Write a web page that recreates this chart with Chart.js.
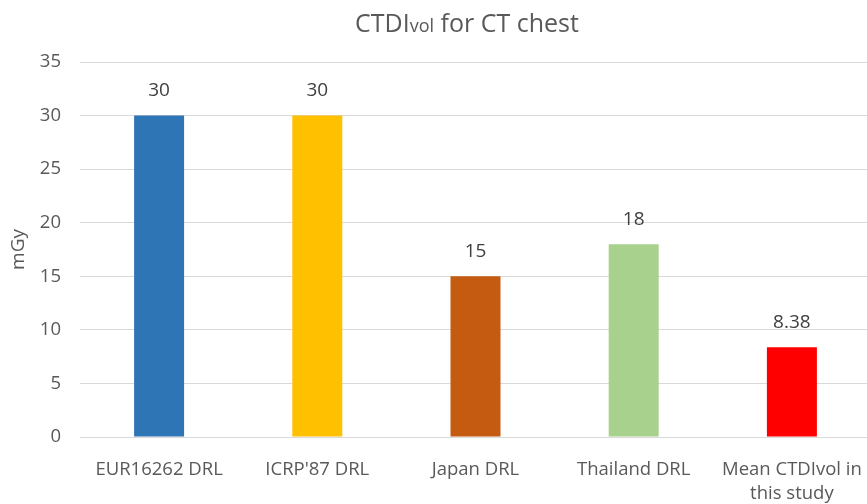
<!DOCTYPE html>
<html>
<head>
<meta charset="utf-8">
<script src="https://cdn.jsdelivr.net/npm/chart.js@4"></script>
<style>
  html, body { margin: 0; padding: 0; background: #fff; overflow: hidden; }
  /* the plot area runs a few px past the right edge in the original */
  #outer { width: 867px; height: 504px; overflow: hidden; }
</style>
</head>
<body>
<div id="outer"><canvas id="chest" width="871" height="504"></canvas></div>
<script>
const categories = ['EUR16262 DRL', "ICRP'87 DRL", 'Japan DRL', 'Thailand DRL', ['Mean CTDIvol in', 'this study']];
const doses = [30, 30, 15, 18, 8.38];
const doseLabels = ['30', '30', '15', '18', '8.38'];
const barColors = ['#2E75B6', '#FFC000', '#C55A11', '#A9D18E', '#FF0000'];
const yTicks = [0, 5, 10, 15, 20, 25, 30, 35];

const fontFamily = "'Open Sans', 'Liberation Sans', sans-serif";

// title with the small "vol" part, Chart.js title can't mix sizes
const titlePlugin = {
  id: 'mixedTitle',
  afterDraw(chart) {
    const ctx = chart.ctx;
    const parts = [
      { text: 'CTDI', size: 25 },
      { text: 'vol', size: 18 },
      { text: ' for CT chest', size: 25 }
    ];
    ctx.save();
    ctx.fillStyle = '#595959';
    ctx.textBaseline = 'alphabetic';
    let total = 0;
    parts.forEach(p => {
      ctx.font = p.size + 'px ' + fontFamily;
      p.w = ctx.measureText(p.text).width;
      total += p.w;
    });
    let x = 467 - total / 2;
    parts.forEach(p => {
      ctx.font = p.size + 'px ' + fontFamily;
      ctx.fillText(p.text, x, 32);
      x += p.w;
    });
    ctx.restore();
  }
};

// value labels over each bar
const valuePlugin = {
  id: 'valueLabels',
  afterDatasetsDraw(chart) {
    const ctx = chart.ctx;
    const meta = chart.getDatasetMeta(0);
    ctx.save();
    ctx.font = '19px ' + fontFamily;
    ctx.fillStyle = '#404040';
    ctx.textAlign = 'center';
    ctx.textBaseline = 'middle';
    meta.data.forEach((bar, i) => {
      ctx.fillText(doseLabels[i], bar.x, bar.y - 25);
    });
    ctx.restore();
  }
};

new Chart(document.getElementById('chest'), {
  type: 'bar',
  data: {
    labels: categories,
    datasets: [{
      data: doses,
      backgroundColor: barColors,
      borderWidth: 0,
      barPercentage: 0.316,
      categoryPercentage: 1
    }]
  },
  options: {
    responsive: false,
    animation: false,
    devicePixelRatio: 1,
    layout: { padding: { top: 62, right: 0, left: 0, bottom: 0 } },
    plugins: {
      legend: { display: false },
      title: { display: false },
      tooltip: { enabled: false }
    },
    scales: {
      x: {
        grid: { display: false },
        border: { display: false },
        ticks: {
          color: '#595959',
          font: { family: fontFamily, size: 18.5, lineHeight: 1.3 },
          padding: 13,
          maxRotation: 0,
          autoSkip: false
        },
        afterFit(scale) {
          scale.height = 67;
          // no extra room for the edge labels
          scale.paddingLeft = 0;
          scale.paddingRight = 0;
        }
      },
      y: {
        min: 0,
        max: 35,
        afterBuildTicks(scale) { scale.ticks = yTicks.map(v => ({ value: v })); },
        grid: { color: '#D9D9D9', lineWidth: 1, drawTicks: false },
        border: { display: false },
        ticks: {
          color: '#595959',
          font: { family: fontFamily, size: 18.5 },
          padding: 19
        },
        title: {
          display: true,
          text: 'mGy',
          color: '#595959',
          font: { family: fontFamily, size: 19 },
          padding: { top: 7, bottom: 0 }
        },
        afterFit(scale) { scale.width = 80; }
      }
    }
  },
  plugins: [titlePlugin, valuePlugin]
});
</script>
</body>
</html>
